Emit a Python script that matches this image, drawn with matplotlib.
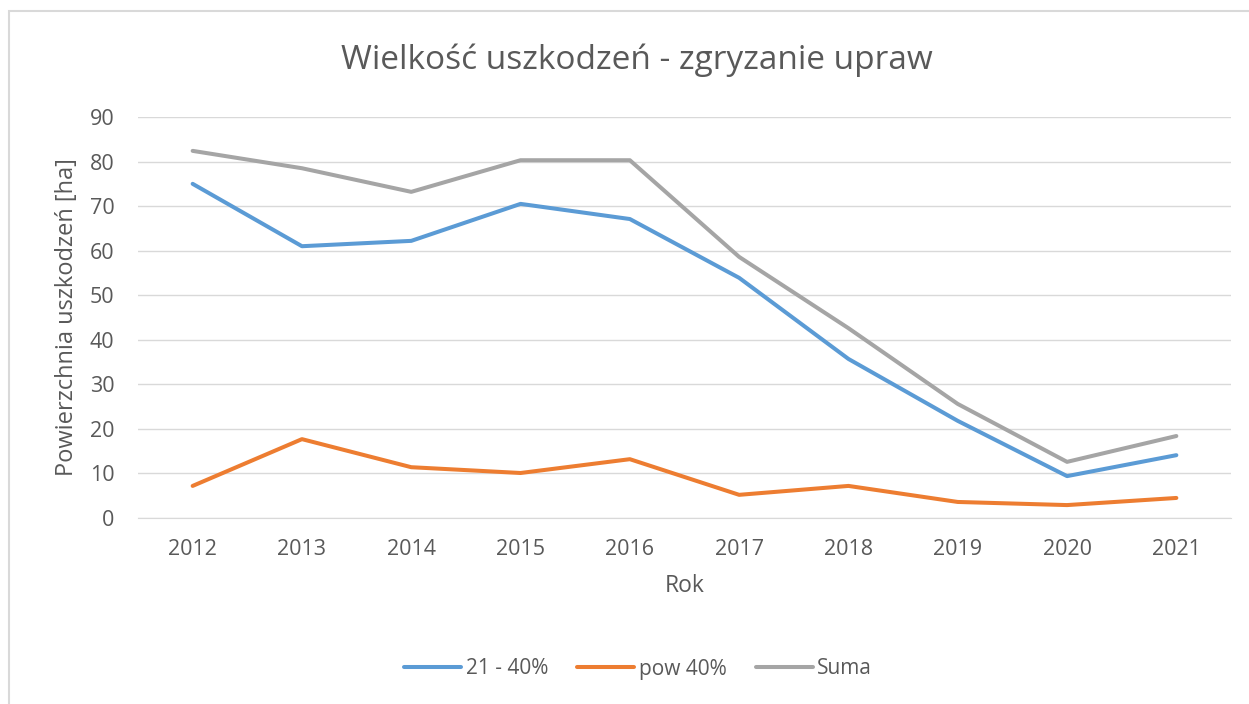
import matplotlib
matplotlib.use("Agg")
import matplotlib.pyplot as plt
from matplotlib.patches import Rectangle

years = ["2012", "2013", "2014", "2015", "2016", "2017", "2018", "2019", "2020", "2021"]
s_21_40 = [75.0, 61.0, 62.2, 70.5, 67.1, 53.9, 35.7, 21.8, 9.4, 14.1]
s_pow40 = [7.2, 17.7, 11.4, 10.1, 13.2, 5.2, 7.2, 3.6, 2.9, 4.5]
s_suma = [82.4, 78.5, 73.2, 80.3, 80.3, 58.6, 42.6, 25.6, 12.6, 18.4]
y_ticks = [0, 10, 20, 30, 40, 50, 60, 70, 80, 90]

plt.rcParams['font.family'] = ['Open Sans', 'DejaVu Sans']
txt = '#595959'

W, H = 1249, 704
fig = plt.figure(figsize=(W/100, H/100), dpi=100)
fig.patches.append(Rectangle((9/W, -0.2), 1.2, 1.2 - 11/H, transform=fig.transFigure,
                             fill=False, edgecolor='#D9D9D9', linewidth=1.5))

ax = fig.add_axes([138/W, 1 - 518/H, (1231-138)/W, (518-117)/H])
x = list(range(len(years)))
ax.plot(x, s_21_40, color='#5B9BD5', lw=2.9, label='21 - 40%', solid_capstyle='round')
ax.plot(x, s_pow40, color='#ED7D31', lw=2.9, label='pow 40%', solid_capstyle='round')
ax.plot(x, s_suma, color='#A5A5A5', lw=2.9, label='Suma', solid_capstyle='round')

ax.set_xlim(-0.5, len(years) - 0.5)
ax.set_ylim(0, 90)
ax.set_yticks(y_ticks)
ax.set_xticks(x)
ax.set_xticklabels(years)
ax.grid(axis='y', color='#D9D9D9', lw=1)
ax.set_axisbelow(True)
for s in ['top', 'right', 'left']:
    ax.spines[s].set_visible(False)
ax.spines['bottom'].set_color('#D9D9D9')
ax.tick_params(axis='both', length=0, labelsize=15.5, colors=txt)
ax.tick_params(axis='x', pad=15)
ax.tick_params(axis='y', pad=17)

ax.set_xlabel('Rok', fontsize=16.5, color=txt, labelpad=10)
ax.set_ylabel('Powierzchnia uszkodzeń [ha]', fontsize=17, color=txt, labelpad=8)
fig.text(637/W, 1 - 60/H, 'Wielkość uszkodzeń - zgryzanie upraw', fontsize=24,
         color=txt, ha='center', va='center')

leg = fig.legend(loc='center', bbox_to_anchor=(638/W, 1 - 669/H), ncol=3, frameon=False,
                 fontsize=15, handlelength=2.75, columnspacing=1.4, handletextpad=0.2)
for t in leg.get_texts():
    t.set_color(txt)

fig.savefig('out.png', dpi=100)
